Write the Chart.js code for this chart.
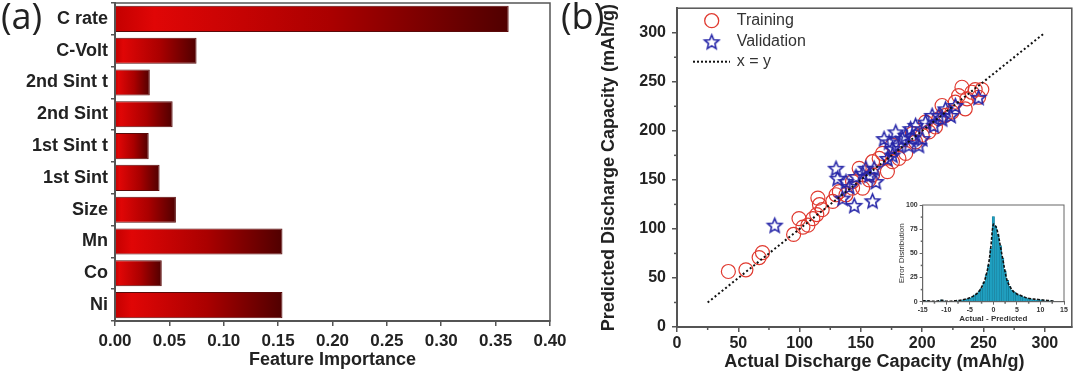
<!DOCTYPE html>
<html>
<head>
<meta charset="utf-8">
<script src="https://cdn.jsdelivr.net/npm/chart.js@4.4.0/dist/chart.umd.min.js"></script>
<style>
  html, body { margin: 0; padding: 0; background: #fff; }
  #wrap { position: relative; width: 1080px; height: 374px; overflow: hidden; }
  .box { position: absolute; }
  .tag { position: absolute; font-family: 'Open Sans', sans-serif; font-size: 36px; color: #222; line-height: 1; }
</style>
</head>
<body>
<div id="wrap">
  <div class="box" style="left:0;top:0;width:575px;height:374px"><canvas id="chartA"></canvas></div>
  <div class="box" style="left:560px;top:0;width:520px;height:374px"><canvas id="chartB"></canvas></div>
  <div class="box" style="left:890px;top:196px;width:180px;height:128px"><canvas id="chartC"></canvas></div>
  <div class="tag" style="left:1px;top:-2px">(a)</div>
  <div class="tag" style="left:561px;top:-2px">(b)</div>
</div>
<script>
// panel (a) - feature importance
const features = ['C rate', 'C-Volt', '2nd Sint t', '2nd Sint', '1st Sint t', '1st Sint', 'Size', 'Mn', 'Co', 'Ni'];
const importance = [0.362, 0.075, 0.032, 0.053, 0.031, 0.041, 0.056, 0.154, 0.043, 0.154];

// panel (b) - predicted vs actual
const trainX = [41.9, 56.2, 67, 69.7, 95.1, 99.5, 102.7, 106.8, 110.8, 114, 114.9, 116.2, 118.4, 127, 129.7, 132.4, 143.2, 148.6, 151.4, 156.8,
                159.5, 164.9, 167.6, 171.6, 175.7, 181, 186.5, 194.6, 200, 205.4, 210.8, 213.5, 216.2, 219, 224.3, 227, 229.7, 232.4, 235.1, 236.5,
                240.5, 243.2, 248.6, 246, 175.7, 159.5, 137.8, 143.2, 192, 202.7];
const trainY = [56.6, 58.3, 70.8, 75.8, 94.4, 110.5, 101.8, 103.8, 110.5, 114.6, 131.4, 124.7, 119.6, 128, 134.8, 138, 141.6, 161.8, 141.6, 150,
                168.5, 171.9, 177, 158.4, 168.5, 171.9, 177, 188.7, 195.5, 198.9, 203.9, 212.3, 225.8, 215.7, 219.1, 229.2, 235.9, 244.4, 222.4, 232.6,
                239.3, 242, 242, 234.2, 185.4, 155, 134.8, 148.3, 197.2, 208.9];
const validX = [79.7, 129.7, 131, 135, 137.8, 144.6, 146, 151.4, 156.8, 159.5, 162.2, 160.8, 168.9, 171.6, 175.7, 178.4, 181, 183.8, 186.5, 189.2,
                190.5, 194.6, 197.3, 200, 202.7, 208.1, 209.5, 213.5, 216.2, 219, 223.2, 227, 246, 175.7, 191.9, 140.5, 154, 173];
const validY = [103.8, 161.8, 151.7, 131.4, 148.3, 124, 153.4, 156.7, 155, 128.7, 148.3, 161.8, 192.1, 171.9, 182, 198.9, 185.4, 192.1, 195.5, 185.4,
                202.2, 205.6, 185.4, 192.1, 208.9, 215.7, 205.6, 215.7, 212.3, 222.4, 215.7, 225.8, 234.2, 175.3, 193.8, 143.2, 161.8, 188.7];
const diagX = [25, 300];
const diagY = [25, 300];

// inset - error histogram
const errBins = [-14.5, -14, -13.5, -13, -12.5, -12, -11.5, -11, -10.5, -10, -9.5, -9, -8.5, -8, -7.5, -7, -6.5, -6, -5.5, -5,
                 -4.5, -4, -3.5, -3, -2.5, -2, -1.5, -1, -0.5, 0, 0.5, 1, 1.5, 2, 2.5, 3, 3.5, 4, 4.5, 5,
                 5.5, 6, 6.5, 7, 7.5, 8, 8.5, 9, 9.5, 10, 10.5, 11, 11.5, 12, 12.5];
const errCounts = [1, 1, 0, 0, 0, 0, 1, 2, 1, 0, 0, 0, 0, 1, 1, 1, 2, 2, 3, 4,
                   5, 7, 9, 11, 14, 20, 28, 38, 55, 88, 78, 70, 58, 45, 32, 22, 16, 12, 10, 8,
                   7, 6, 5, 4, 3, 3, 2, 2, 2, 2, 2, 1, 1, 1, 1];
const fitX = [-15, -14, -13, -12, -11, -10, -9, -8, -7, -6, -5, -4, -3, -2, -1.5, -1, -0.5, 0, 0.5, 1, 1.5, 2, 2.5, 3, 4, 5, 6, 7, 8, 9, 10, 11, 12, 13];
const fitY = [1, 1, 0.5, 0.5, 1.5, 0.5, 0.5, 1, 1.5, 2.5, 4, 6.5, 11, 20, 28, 39, 58, 80, 78, 70, 57, 44, 31, 21, 12, 8, 6, 4, 3, 2.5, 2, 1.5, 1, 0.5];

const FONT = "'Liberation Sans', Arial, sans-serif";
const INK = '#222';
const AXIS = '#555';
Chart.defaults.font.family = FONT;
Chart.defaults.color = INK;

// fixed axis size, and no extra room kept for the end labels
function fixSize(prop, value) {
  return s => {
    s[prop] = value;
    s.paddingTop = 0; s.paddingBottom = 0; s.paddingLeft = 0; s.paddingRight = 0;
  };
}

// draws the closed box round the plot area
const frame = {
  id: 'frame',
  afterDraw(chart, args, opts) {
    const { ctx, chartArea: a } = chart;
    ctx.save();
    ctx.strokeStyle = opts.color || AXIS;
    ctx.lineWidth = opts.width || 1.5;
    ctx.strokeRect(a.left, a.top, a.right - a.left, a.bottom - a.top);
    ctx.restore();
  }
};

// short ticks half way between the labelled ones
const minorTicks = {
  id: 'minorTicks',
  afterDraw(chart, args, opts) {
    const c = chart.ctx;
    const a = chart.chartArea;
    const len = opts.length || 3;
    c.save();
    c.strokeStyle = opts.color || AXIS;
    c.lineWidth = 1.5;
    ['x', 'y'].forEach(id => {
      const s = chart.scales[id];
      const t = s.ticks;
      for (let i = 0; i < t.length - 1; i++) {
        const p = s.getPixelForValue((t[i].value + t[i + 1].value) / 2);
        c.beginPath();
        if (id === 'x') { c.moveTo(p, a.bottom); c.lineTo(p, a.bottom + len); }
        else { c.moveTo(a.left, p); c.lineTo(a.left - len, p); }
        c.stroke();
      }
    });
    c.restore();
  }
};

// x tick labels of panel (b), placed from the scale's own ticks
const xTickLabels = {
  id: 'xTickLabels',
  afterDraw(chart, args, opts) {
    const c = chart.ctx;
    const s = chart.scales.x;
    c.save();
    c.font = 'bold 16px ' + FONT;
    c.fillStyle = INK;
    c.textAlign = 'center';
    c.textBaseline = 'top';
    s.ticks.forEach(t => {
      c.fillText(String(t.value), s.getPixelForValue(t.value), chart.chartArea.bottom + (opts.offset || 9));
    });
    c.restore();
  }
};

function barGradient(c) {
  const chart = c.chart;
  const xs = chart.scales.x;
  if (!chart.chartArea || !xs || c.raw == null) return '#b00000';
  const x0 = xs.getPixelForValue(0);
  const x1 = xs.getPixelForValue(c.raw);
  const g = chart.ctx.createLinearGradient(x0, 0, x1, 0);
  g.addColorStop(0, '#c40000');
  g.addColorStop(0.1, '#e00606');
  g.addColorStop(0.55, '#aa0000');
  g.addColorStop(1, '#500000');
  return g;
}

new Chart(document.getElementById('chartA'), {
  type: 'bar',
  data: {
    labels: features,
    datasets: [{
      data: importance,
      backgroundColor: barGradient,
      borderColor: '#5a0a0a',
      borderWidth: 1,
      barPercentage: 0.82,
      categoryPercentage: 1
    }]
  },
  options: {
    indexAxis: 'y',
    responsive: true,
    maintainAspectRatio: false,
    animation: false,
    layout: { padding: { top: 3, right: 25, left: 0, bottom: 0 } },
    plugins: {
      legend: { display: false },
      tooltip: { enabled: false },
      frame: { color: AXIS, width: 1.5 }
    },
    scales: {
      x: {
        min: 0, max: 0.4,
        ticks: { stepSize: 0.05, callback: v => v.toFixed(2), font: { size: 17, weight: 'bold' }, color: INK, padding: 5 },
        grid: { drawOnChartArea: false, tickLength: 5, color: AXIS, lineWidth: 1.5 },
        border: { color: AXIS, width: 2 },
        title: { display: true, text: 'Feature Importance', font: { size: 18, weight: 'bold' }, color: INK, padding: { top: 0, bottom: 3 } },
        afterFit: fixSize('height', 53)
      },
      y: {
        ticks: { font: { size: 18, weight: 'bold' }, color: INK, padding: 3 },
        grid: { drawOnChartArea: false, tickLength: 4, color: AXIS, lineWidth: 1.5, offset: true },
        border: { color: AXIS, width: 2 },
        afterFit: fixSize('width', 115)
      }
    }
  },
  plugins: [frame]
});

// open five-point star used as the point style of the validation set
function starImage(r, color) {
  const s = Math.ceil(r * 2 + 4);
  const cv = document.createElement('canvas');
  cv.width = s; cv.height = s;
  const g = cv.getContext('2d');
  g.beginPath();
  for (let i = 0; i < 10; i++) {
    const rr = i % 2 ? r * 0.45 : r;
    const a = -Math.PI / 2 + i * Math.PI / 5;
    g.lineTo(s / 2 + rr * Math.cos(a), s / 2 + 0.8 + rr * Math.sin(a));
  }
  g.closePath();
  g.strokeStyle = color;
  g.lineWidth = 1.6;
  g.stroke();
  return cv;
}
const starImg = starImage(7.5, '#2626a8');

const RED = '#e03a30';

const insideLegend = {
  id: 'insideLegend',
  afterDraw(chart) {
    const c = chart.ctx;
    c.save();
    c.font = '16px ' + FONT;
    c.fillStyle = '#333';
    c.textBaseline = 'middle';
    // Training
    c.beginPath();
    c.arc(151.7, 20.7, 7, 0, Math.PI * 2);
    c.strokeStyle = RED; c.lineWidth = 1.3; c.stroke();
    c.fillText('Training', 176.7, 20.7);
    // Validation
    c.drawImage(starImg, 151.7 - starImg.width / 2, 41.7 - starImg.height / 2);
    c.fillText('Validation', 176.7, 41.7);
    // x = y
    c.beginPath();
    c.setLineDash([2, 2]);
    c.moveTo(133, 61.7); c.lineTo(170, 61.7);
    c.strokeStyle = '#111'; c.lineWidth = 2; c.stroke();
    c.setLineDash([]);
    c.fillText('x = y', 176.7, 61.7);
    c.restore();
  }
};

new Chart(document.getElementById('chartB'), {
  type: 'scatter',
  data: {
    datasets: [
      {
        type: 'line',
        data: diagX.map((x, i) => ({ x, y: diagY[i] })),
        borderColor: '#111', borderWidth: 2, borderDash: [2, 2.5],
        pointRadius: 0, fill: false, order: 0
      },
      {
        data: validX.map((x, i) => ({ x, y: validY[i] })),
        pointStyle: starImg, pointRadius: 7, order: 1
      },
      {
        data: trainX.map((x, i) => ({ x, y: trainY[i] })),
        pointStyle: 'circle', pointRadius: 7,
        backgroundColor: 'rgba(0,0,0,0)', borderColor: RED, borderWidth: 1.2, order: 2
      }
    ]
  },
  options: {
    responsive: true,
    maintainAspectRatio: false,
    animation: false,
    layout: { padding: { top: 5, right: 7, left: 38, bottom: 0 } },
    plugins: {
      legend: { display: false },
      tooltip: { enabled: false },
      frame: { color: AXIS, width: 1.5 },
      minorTicks: { color: AXIS, length: 3 },
      xTickLabels: { offset: 9 }
    },
    scales: {
      x: {
        type: 'linear', min: 0, max: 322,
        ticks: { display: false, stepSize: 50, includeBounds: false, autoSkip: false },
        grid: { drawOnChartArea: false, tickLength: 5, color: AXIS, lineWidth: 1.5 },
        border: { color: AXIS, width: 2 },
        title: { display: true, text: 'Actual Discharge Capacity (mAh/g)', font: { size: 18, weight: 'bold' }, color: INK, padding: { top: 0, bottom: 1 } },
        afterFit: fixSize('height', 47)
      },
      y: {
        min: 0, max: 325,
        ticks: { stepSize: 50, includeBounds: false, autoSkip: false, font: { size: 16, weight: 'bold' }, color: INK, padding: 6 },
        grid: { drawOnChartArea: false, tickLength: 5, color: AXIS, lineWidth: 1.5 },
        border: { color: AXIS, width: 2 },
        title: { display: true, text: 'Predicted Discharge Capacity (mAh/g)', font: { size: 18, weight: 'bold' }, color: INK, padding: { top: 0, bottom: 0 } },
        afterFit: fixSize('width', 79)
      }
    }
  },
  plugins: [frame, minorTicks, xTickLabels, insideLegend]
});

new Chart(document.getElementById('chartC'), {
  type: 'bar',
  data: {
    datasets: [
      {
        type: 'line',
        data: fitX.map((x, i) => ({ x, y: fitY[i] })),
        borderColor: '#111', borderWidth: 1.6, borderDash: [3, 1.5],
        pointRadius: 0, tension: 0.35, fill: false, order: 0
      },
      {
        type: 'bar',
        data: errBins.map((x, i) => ({ x, y: errCounts[i] })),
        backgroundColor: '#1f9fc0', borderColor: '#137590', borderWidth: 0.5,
        barPercentage: 1, categoryPercentage: 1, order: 1
      }
    ]
  },
  options: {
    responsive: true,
    maintainAspectRatio: false,
    animation: false,
    layout: { padding: { top: 9, right: 6, left: 7, bottom: 0 } },
    plugins: {
      legend: { display: false },
      tooltip: { enabled: false },
      frame: { color: '#666', width: 1 },
      minorTicks: { color: '#666', length: 2 }
    },
    scales: {
      x: {
        type: 'linear', min: -15, max: 15, offset: false,
        ticks: { stepSize: 5, font: { size: 7, weight: 'bold' }, color: '#333', padding: 1, maxRotation: 0, autoSkip: false },
        grid: { drawOnChartArea: false, offset: false, tickLength: 3, color: '#666' },
        border: { color: '#666', width: 1 },
        title: { display: true, text: 'Actual - Predicted', font: { size: 8, weight: 'bold' }, color: '#333', padding: { top: 0, bottom: 0 } },
        afterFit: fixSize('height', 22.3)
      },
      y: {
        min: 0, max: 100,
        ticks: { stepSize: 25, font: { size: 7, weight: 'bold' }, color: '#333', padding: 2 },
        grid: { drawOnChartArea: false, tickLength: 3, color: '#666' },
        border: { color: '#666', width: 1 },
        title: { display: true, text: 'Error Distribution', font: { size: 8 }, color: '#333', padding: { top: 0, bottom: 0 } },
        afterFit: fixSize('width', 25.7)
      }
    }
  },
  plugins: [frame, minorTicks]
});
</script>
</body>
</html>
